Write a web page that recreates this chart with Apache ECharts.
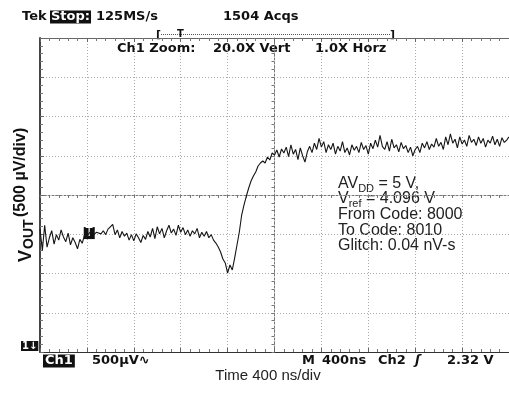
<!DOCTYPE html>
<html><head><meta charset="utf-8">
<script src="https://cdn.jsdelivr.net/npm/echarts@6/dist/echarts.min.js"></script>
<style>html,body{margin:0;padding:0;background:#fff}#c{width:509px;height:394px}</style>
</head><body><div id="c"></div>
<script>
// ---- data ----
const timeStepNs = 20;
const xMaxNs = 4000;              // 10 div x 400 ns
const xDivNs = 400;
const yMinUv = -2000, yMaxUv = 2000; // 8 div x 500 uV
const yDivUv = 500;
const voutUv = [
  -435, -705, -385, -665, -545, -455, -625, -505, -575, -445,
  -535, -595, -485, -635, -545, -605, -685, -565, -615, -505,
  -525, -485, -455, -505, -475, -485, -495, -455, -505, -435,
  -405, -375, -505, -445, -545, -465, -525, -485, -575, -505,
  -585, -495, -545, -605, -515, -565, -465, -535, -425, -555,
  -405, -495, -425, -545, -455, -385, -485, -435, -515, -385,
  -475, -415, -505, -445, -525, -455, -495, -425, -545, -475,
  -525, -465, -545, -505, -575,
  -612, -662, -726, -815, -866, -994, -892, -955, -803, -637,
  -471, -255, -127, -13, 89, 178, 242, 293, 369, 408,
  433, 408, 484, 446, 535, 510, 573, 484, 586, 535,
  610, 490, 640, 520, 580, 450, 600, 500, 420, 550,
  620, 540, 660, 580, 720, 610, 680, 540, 640, 580,
  660, 520, 620, 560, 680, 540, 600, 510, 640, 570,
  620, 540, 670, 580, 630, 520, 660, 590, 700, 610,
  760, 620, 580, 680, 560, 710, 600, 640, 550, 670,
  590, 630, 540, 610, 500, 580, 620, 540, 660, 600,
  680, 580, 650, 610, 720, 620, 670, 580, 740, 640,
  780, 660, 710, 600, 740, 650, 700, 620, 760, 670,
  710, 630, 740, 660, 720, 610, 700, 660, 750, 640,
  710, 620, 730, 670, 700, 740
];
const triggerSampleIndex = 21;
const annotationLines = ['From Code: 8000', 'To Code: 8010', 'Glitch: 0.04 nV-s'];

// ---- chart ----
const tracePoints = voutUv.map((v, i) => [i * timeStepNs, v]);
const chart = echarts.init(document.getElementById('c'), null, {renderer: 'canvas'});
const scope = 'bold 13px "DejaVu Sans"';
const arial = '"Liberation Sans", Arial';
const gridLine = {show: true, lineStyle: {color: '#aaaaaa', width: 1, type: [1, 2]}};
const borderAxis = (extra) => Object.assign({
  axisLabel: {show: false},
  axisTick: {show: true, inside: true, length: 4, lineStyle: {color: '#666'}},
  minorTick: {show: true, splitNumber: 5, length: 3, lineStyle: {color: '#777'}},
}, extra);

chart.setOption({
  animation: false,
  backgroundColor: '#fff',
  grid: [
    {left: 40, top: 38, width: 470, height: 314},
    {left: 40, top: 38, width: 470, height: 314}
  ],
  xAxis: [
    borderAxis({gridIndex: 0, type: 'value', min: 0, max: xMaxNs, interval: xDivNs, position: 'bottom',
      axisLine: {onZero: false, lineStyle: {color: '#333', width: 1.2}}, splitLine: gridLine}),
    borderAxis({gridIndex: 0, type: 'value', min: 0, max: xMaxNs, interval: xDivNs, position: 'top',
      axisLine: {onZero: false, lineStyle: {color: '#666', width: 1}}, splitLine: {show: false}}),
    borderAxis({gridIndex: 1, type: 'value', min: -xMaxNs / 2, max: xMaxNs / 2, interval: xDivNs,
      axisLine: {onZero: true, lineStyle: {color: '#777', width: 1, type: [2, 2]}}, splitLine: {show: false},
      axisTick: {show: true, inside: false, length: 3, lineStyle: {color: '#777'}}})
  ],
  yAxis: [
    borderAxis({gridIndex: 0, type: 'value', min: yMinUv, max: yMaxUv, interval: yDivUv, position: 'left',
      axisLine: {onZero: false, lineStyle: {color: '#444', width: 2}}, splitLine: gridLine}),
    borderAxis({gridIndex: 1, type: 'value', min: yMinUv, max: yMaxUv, interval: yDivUv,
      axisLine: {onZero: true, lineStyle: {color: '#777', width: 1, type: [2, 2]}}, splitLine: {show: false},
      axisTick: {show: true, inside: false, length: 3, lineStyle: {color: '#777'}}})
  ],
  series: [{
    type: 'line', xAxisIndex: 0, yAxisIndex: 0, data: tracePoints,
    showSymbol: false, symbol: 'none', z: 5,
    lineStyle: {color: '#151515', width: 1.1},
    markPoint: {
      symbol: 'rect', symbolSize: [11, 12], itemStyle: {color: '#111'},
      label: {show: true, position: 'inside', formatter: 'T', color: '#fff', font: 'bold 10px "DejaVu Sans"'},
      data: [{coord: tracePoints[triggerSampleIndex]}]
    }
  }],
  graphic: [
    // top status line
    {type: 'text', x: 22, y: 17, style: {text: 'Tek', font: scope, fill: '#111', verticalAlign: 'middle'}},
    {type: 'text', x: 50, y: 17, style: {text: 'Stop:', font: scope, fill: '#fff', backgroundColor: '#111', padding: [0, 1], verticalAlign: 'middle'}},
    {type: 'text', x: 96, y: 17, style: {text: '125MS/s', font: scope, fill: '#111', verticalAlign: 'middle'}},
    {type: 'text', x: 223, y: 17, style: {text: '1504 Acqs', font: scope, fill: '#111', verticalAlign: 'middle'}},
    // record bracket
    {type: 'text', x: 156, y: 35, style: {text: '[', font: 'bold 11px "DejaVu Sans"', fill: '#111', verticalAlign: 'middle'}},
    {type: 'text', x: 390, y: 35, style: {text: ']', font: 'bold 11px "DejaVu Sans"', fill: '#111', verticalAlign: 'middle'}},
    {type: 'line', shape: {x1: 161, y1: 34.5, x2: 391, y2: 34.5}, style: {stroke: '#555', lineWidth: 1, lineDash: [1, 1]}},
    {type: 'text', x: 177, y: 34, style: {text: 'T', font: 'bold 10px "DejaVu Sans"', fill: '#111', verticalAlign: 'middle'}},
    // zoom info
    {type: 'text', x: 117, y: 49, style: {text: 'Ch1 Zoom:', font: scope, fill: '#111', verticalAlign: 'middle'}},
    {type: 'text', x: 213, y: 49, style: {text: '20.0X Vert', font: scope, fill: '#111', verticalAlign: 'middle'}},
    {type: 'text', x: 315, y: 49, style: {text: '1.0X Horz', font: scope, fill: '#111', verticalAlign: 'middle'}},
    // bottom status line
    {type: 'text', x: 21, y: 346, style: {text: '1\u2193', font: 'bold 10px "DejaVu Sans"', fill: '#fff', backgroundColor: '#111', padding: [0, 1], verticalAlign: 'middle'}},
    {type: 'text', x: 43, y: 361, style: {text: 'Ch1', font: scope, fill: '#fff', backgroundColor: '#111', padding: [0, 2], verticalAlign: 'middle'}},
    {type: 'text', x: 92, y: 361, style: {text: '500\u00b5V\u223f', font: scope, fill: '#111', verticalAlign: 'middle'}},
    {type: 'text', x: 302, y: 361, style: {text: 'M', font: scope, fill: '#111', verticalAlign: 'middle'}},
    {type: 'text', x: 322, y: 361, style: {text: '400ns', font: scope, fill: '#111', verticalAlign: 'middle'}},
    {type: 'text', x: 378, y: 361, style: {text: 'Ch2', font: scope, fill: '#111', verticalAlign: 'middle'}},
    {type: 'text', x: 415, y: 361, style: {text: '\u0283', font: 'bold italic 13px "DejaVu Sans"', fill: '#111', verticalAlign: 'middle'}},
    {type: 'text', x: 447, y: 361, style: {text: '2.32 V', font: scope, fill: '#111', verticalAlign: 'middle'}},
    // x axis title
    {type: 'text', x: 268, y: 376, style: {text: 'Time 400 ns/div', font: '15px ' + arial, fill: '#222', align: 'center', verticalAlign: 'middle'}},
    // y axis title (rotated)
    {type: 'text', x: 26, y: 262, rotation: Math.PI / 2, style: {text: 'V', font: 'bold 18px ' + arial, fill: '#111', verticalAlign: 'middle'}},
    {type: 'text', x: 29, y: 249, rotation: Math.PI / 2, style: {text: 'OUT', font: 'bold 14px ' + arial, fill: '#111', verticalAlign: 'middle'}},
    {type: 'text', x: 21, y: 217, rotation: Math.PI / 2, style: {text: '(500 \u00b5V/div)', font: 'bold 16px ' + arial, fill: '#111', verticalAlign: 'middle'}},
    // annotation
    {type: 'text', x: 338, y: 184, style: {text: '{n|AV}{s|DD}{n| = 5 V,}', font: '16px ' + arial, fill: '#222', verticalAlign: 'middle',
      rich: {n: {font: '16px ' + arial, fill: '#222', lineHeight: 20}, s: {font: '11px ' + arial, fill: '#222', lineHeight: 11, verticalAlign: 'bottom'}}}},
    {type: 'text', x: 338, y: 199, style: {text: '{n|V}{s|ref}{n| = 4.096 V}', font: '16px ' + arial, fill: '#222', verticalAlign: 'middle',
      rich: {n: {font: '16px ' + arial, fill: '#222', lineHeight: 20}, s: {font: '11px ' + arial, fill: '#222', lineHeight: 11, verticalAlign: 'bottom'}}}},
    {type: 'text', x: 338, y: 215, style: {text: annotationLines[0], font: '16px ' + arial, fill: '#222', verticalAlign: 'middle'}},
    {type: 'text', x: 338, y: 231, style: {text: annotationLines[1], font: '16px ' + arial, fill: '#222', verticalAlign: 'middle'}},
    {type: 'text', x: 338, y: 246, style: {text: annotationLines[2], font: '16px ' + arial, fill: '#222', verticalAlign: 'middle'}}
  ]
});
</script></body></html>
